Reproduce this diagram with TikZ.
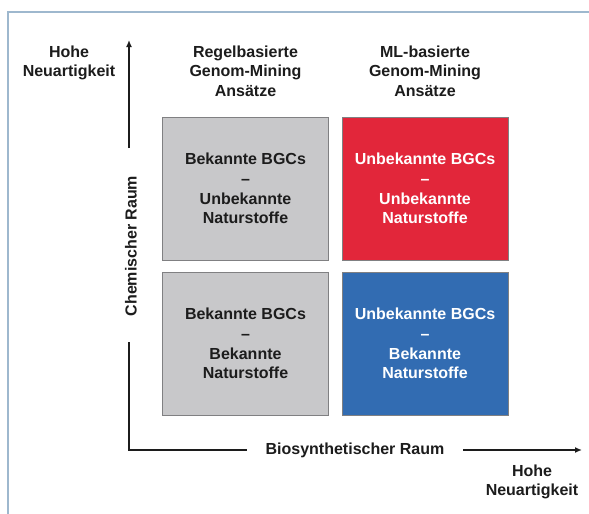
\documentclass[tikz,border=0pt]{standalone}
\usepackage{fontspec}
\setmainfont{Liberation Sans}
\usepackage{xcolor}
\usetikzlibrary{arrows.meta, calc}

\definecolor{framegray}{RGB}{158,184,206}
\definecolor{cellgray}{RGB}{200,200,202}
\definecolor{celledge}{RGB}{128,128,130}
\definecolor{cellred}{RGB}{226,38,58}
\definecolor{cellblue}{RGB}{50,108,178}
\definecolor{inkdark}{RGB}{28,28,28}

\tikzset{
  bold text/.style={font=\bfseries\fontsize{16}{19.6}\selectfont, align=center, text=inkdark, inner sep=0pt},
  cell/.style={bold text, draw=celledge, line width=1pt, minimum width=166pt, minimum height=143pt},
  axis line/.style={line width=1.6pt, draw=inkdark},
  axis tip/.style={-{Latex[length=7pt, width=6pt]}},
}

\begin{document}
\begin{tikzpicture}[x=1pt, y=-1pt]
  % ----- Page frame -----
  \useasboundingbox (0, 0) rectangle (589, 514);
  \fill[white] (0, 0) rectangle (589, 514);
  \draw[framegray, line width=1.5pt] (589, 12) -- (8, 12) -- (8, 514);

  % ----- Column headers -----
  \node[bold text] (headrule) at (245.5, 71) {Regelbasierte\\Genom-Mining\\Ansätze};
  \node[bold text] (headml) at (425, 71) {ML-basierte\\Genom-Mining\\Ansätze};

  % ----- Four cells -----
  \node[cell, fill=cellgray] (knownunknown) at (245.5, 188.5) {Bekannte BGCs\\–\\Unbekannte\\Naturstoffe};
  \node[cell, fill=cellred, text=white] (unknownunknown) at (425, 188.5) {Unbekannte BGCs\\–\\Unbekannte\\Naturstoffe};
  \node[cell, fill=cellgray] (knownknown) at (245.5, 343.5) {Bekannte BGCs\\–\\Bekannte\\Naturstoffe};
  \node[cell, fill=cellblue, text=white] (unknownknown) at (425, 343.5) {Unbekannte BGCs\\–\\Bekannte\\Naturstoffe};

  % ----- Axes -----
  \coordinate (origin) at (129, 450);
  \coordinate (ytop) at (129, 40);
  \coordinate (ygapup) at (129, 148);
  \coordinate (ygapdown) at (129, 342);
  \coordinate (xgapleft) at (247, 450);
  \coordinate (xgapright) at (463, 450);
  \coordinate (xend) at (582, 450);
  \node[bold text, rotate=90] (chemlabel) at (131, 246) {Chemischer Raum};
  \node[bold text] (biolabel) at (355, 450) {Biosynthetischer Raum};
  \draw[axis line, axis tip] (ygapup) -- (ytop);
  \draw[axis line] (ygapdown) -- (origin) -- (xgapleft);
  \draw[axis line, axis tip] (xgapright) -- (xend);

  % ----- Novelty labels -----
  \node[bold text] (novelup) at (69, 63) {Hohe\\Neuartigkeit};
  \node[bold text] (novelright) at (532, 482) {Hohe\\Neuartigkeit};
\end{tikzpicture}
\end{document}
